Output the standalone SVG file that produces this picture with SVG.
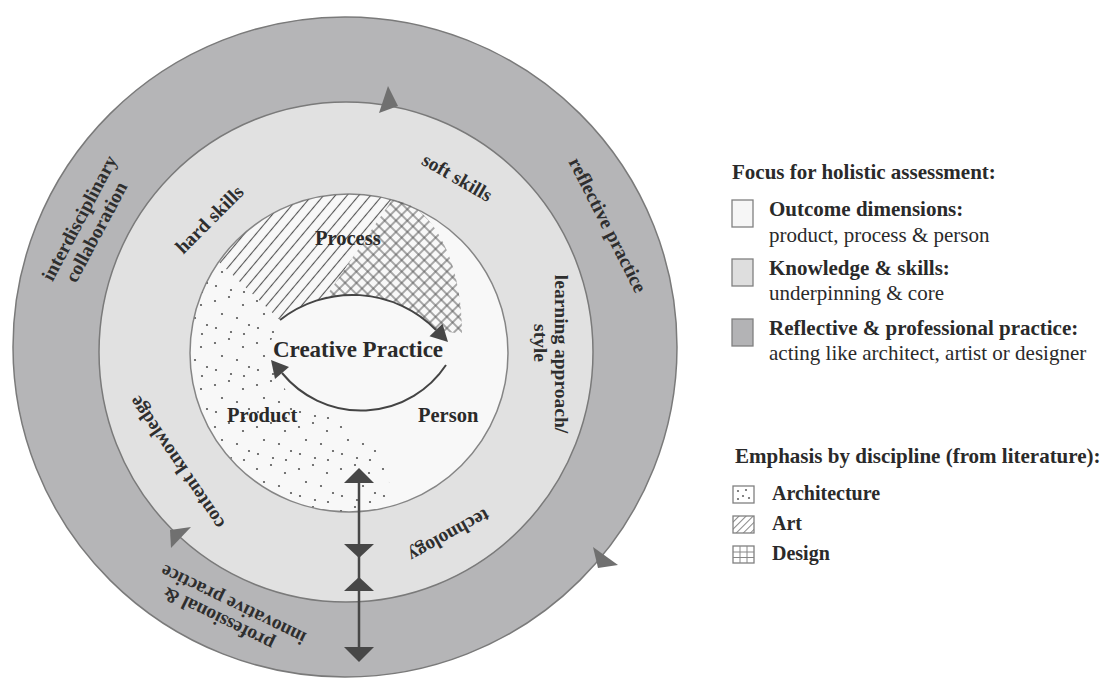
<svg xmlns="http://www.w3.org/2000/svg" width="1103" height="679" viewBox="0 0 1103 679">
<style>
.t{font-family:"Liberation Serif","Times New Roman",serif;fill:#2a2a2a}
.b{font-weight:bold}
.ring{font-family:"Liberation Serif","Times New Roman",serif;font-weight:bold;font-size:19.5px;fill:#2e2e2e;text-anchor:middle}
.lab{font-size:20.5px}
.leg{font-size:21px}
.tri{fill:#707070}
.dark{fill:#474747}
.box{stroke:#808080;stroke-width:1.3}
</style>
<defs>
<pattern id="hatch" width="9" height="9" patternUnits="userSpaceOnUse" patternTransform="rotate(40)">
<line x1="4.5" y1="0" x2="4.5" y2="9" stroke="#555" stroke-width="1.1"/>
</pattern>
<pattern id="grid" width="8" height="8" patternUnits="userSpaceOnUse" patternTransform="rotate(45)">
<path d="M4 0V8M0 4H8" stroke="#555" stroke-width="1" fill="none"/>
</pattern>
<pattern id="dots" width="42" height="42" patternUnits="userSpaceOnUse">
<g fill="#555">
<circle cx="5" cy="7" r="1.1"/><circle cx="19" cy="3" r="1.1"/><circle cx="33" cy="11" r="1.1"/>
<circle cx="12" cy="20" r="1.1"/><circle cx="27" cy="24" r="1.1"/><circle cx="39" cy="31" r="1.1"/>
<circle cx="6" cy="34" r="1.1"/><circle cx="21" cy="38" r="1.1"/><circle cx="34" cy="40" r="1.1"/>
</g>
</pattern>
<pattern id="hatchS" width="5" height="5" patternUnits="userSpaceOnUse" patternTransform="rotate(45)">
<line x1="2.5" y1="0" x2="2.5" y2="5" stroke="#888" stroke-width="1"/>
</pattern>
</defs>
<rect width="1103" height="679" fill="#ffffff"/>

<g id="outer-ring">
<ellipse cx="345" cy="347" rx="332" ry="330" fill="#b5b5b7" stroke="#7a7a7a" stroke-width="1.5"/>
<text class="ring" transform="translate(85,221) rotate(-62)">interdisciplinary</text>
<text class="ring" transform="translate(102,235) rotate(-62)">collaboration</text>
<text class="ring" transform="translate(602,228) rotate(63)">reflective practice</text>
<text class="ring" transform="translate(221,613) rotate(206)">professional &amp;</text>
<text class="ring" transform="translate(236,599) rotate(206)">innovative practice</text>
</g>

<g id="middle-ring">
<ellipse cx="346" cy="352" rx="247" ry="250" fill="#e1e1e1" stroke="#7a7a7a" stroke-width="1.5"/>
<text class="ring" transform="translate(214,224) rotate(-45)">hard skills</text>
<text class="ring" transform="translate(454,183) rotate(30)">soft skills</text>
<text class="ring" transform="translate(555,354) rotate(90)">learning approach/</text>
<text class="ring" transform="translate(534,343) rotate(90)">style</text>
<text class="ring" transform="translate(182,459) rotate(236)">content knowledge</text>
<text class="ring" transform="translate(446,530) rotate(151)">technology</text>
</g>

<g id="inner-circle">
<circle cx="349" cy="353" r="159" fill="#f8f8f8" stroke="#858585" stroke-width="1.5"/>
<path id="architecture-area" d="M219,262 A159,159 0 0 0 395,505 C385,460 370,425 335,418 C305,412 288,398 280,380 L266,352 L280,320 Z" fill="url(#dots)"/>
<path id="art-area" d="M219,262 A159,159 0 0 1 392,200 L325,298 A117,117 0 0 0 280,320 Z" fill="url(#hatch)"/>
<path id="design-area" d="M392,200 A159,159 0 0 1 405,203 C435,214 462,262 462,334 L436,330 A117,117 0 0 0 325,298 Z" fill="url(#grid)"/>
<text class="t b lab" x="315" y="245">Process</text>
<text class="t b lab" x="227" y="422">Product</text>
<text class="t b lab" x="418" y="422">Person</text>
<text class="t b" x="273" y="357" font-size="23">Creative Practice</text>
</g>

<g id="connectors">
<path d="M280,320 A117,117 0 0 1 436,330" fill="none" stroke="#444" stroke-width="2"/>
<polygon class="dark" points="448,342 442.5,323.7 429.5,336.3"/>
<path d="M446,365 A102,102 0 0 1 282,373" fill="none" stroke="#444" stroke-width="2"/>
<polygon class="dark" points="271,360 289,367 275,379"/>
<polygon class="tri" points="398,106 388,86 379,113"/>
<polygon class="tri" points="170,530 191,527 171,548"/>
<polygon class="tri" points="598,568 593,547 618,565"/>
<line x1="359" y1="480" x2="359" y2="650" stroke="#474747" stroke-width="2.5"/>
<polygon class="dark" points="359,468 344,483 374,483"/>
<polygon class="dark" points="344,544 374,544 359,558"/>
<polygon class="dark" points="359,577 344,591 374,591"/>
<polygon class="dark" points="344,647 374,647 359,662"/>
</g>

<g id="legend-focus">
<text class="t b leg" x="732" y="179">Focus for holistic assessment:</text>
<rect class="box" x="732" y="200" width="21" height="27" fill="#f6f6f6"/>
<text class="t b leg" x="769" y="216">Outcome dimensions:</text>
<text class="t leg" x="769" y="242">product, process &amp; person</text>
<rect class="box" x="732" y="259" width="21" height="27" fill="#dedede"/>
<text class="t b leg" x="769" y="275">Knowledge &amp; skills:</text>
<text class="t leg" x="769" y="300">underpinning &amp; core</text>
<rect class="box" x="732" y="319" width="21" height="27" fill="#b3b3b5"/>
<text class="t b leg" x="769" y="335">Reflective &amp; professional practice:</text>
<text class="t leg" x="769" y="360">acting like architect, artist or designer</text>
</g>

<g id="legend-discipline">
<text class="t b leg" x="735" y="463">Emphasis by discipline (from literature):</text>
<g id="legend-architecture">
<rect class="box" x="733" y="486" width="21" height="17" fill="#fff"/>
<g fill="#666"><circle cx="738" cy="491" r="1.1"/><circle cx="746" cy="490" r="1.1"/><circle cx="743" cy="496" r="1.1"/><circle cx="749" cy="498" r="1.1"/><circle cx="738" cy="499" r="1.1"/></g>
<text class="t b" x="772" y="500" font-size="20">Architecture</text>
</g>
<g id="legend-art">
<rect class="box" x="733" y="516" width="21" height="17" fill="url(#hatchS)"/>
<text class="t b" x="772" y="530" font-size="20">Art</text>
</g>
<g id="legend-design">
<rect class="box" x="733" y="546" width="21" height="17" fill="#fff"/>
<path d="M740,546V563M747,546V563M733,552H754M733,557.5H754" stroke="#888" stroke-width="1"/>
<text class="t b" x="772" y="560" font-size="20">Design</text>
</g>
</g>
</svg>
